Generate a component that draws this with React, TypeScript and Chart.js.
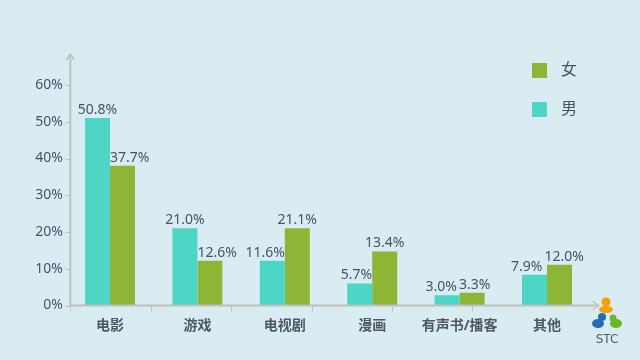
import React, { useEffect, useRef } from "react";
import { Chart, registerables } from "chart.js";

Chart.register(...registerables);

const categories = ["电影", "游戏", "电视剧", "漫画", "有声书/播客", "其他"];
const maleBars = [51.0, 21.0, 12.2, 6.0, 2.8, 8.4];
const femaleBars = [38.0, 12.2, 21.0, 14.7, 3.5, 11.1];
const maleLabels = ["50.8%", "21.0%", "11.6%", "5.7%", "3.0%", "7.9%"];
const femaleLabels = ["37.7%", "12.6%", "21.1%", "13.4%", "3.3%", "12.0%"];
const yTicks = [0, 10, 20, 30, 40, 50, 60];

const BG = "#d9ecf2";
const TEAL = "#4cd6c6";
const GREEN = "#8db536";
const AXIS = "#c0c0c0";
const TEXT = "#44546a";
const FONT = '"Noto Sans", "Noto Sans CJK SC", sans-serif';

const bgPlugin = {
  id: "bg",
  beforeDraw(chart: any) {
    const ctx = chart.ctx;
    ctx.save();
    ctx.fillStyle = BG;
    ctx.fillRect(0, 0, chart.width, chart.height);
    ctx.restore();
  },
};

const decoPlugin = {
  id: "deco",
  afterDatasetsDraw(chart: any) {
    const ctx = chart.ctx;
    const { left, right, bottom } = chart.chartArea;
    const xs = chart.scales.x;
    const ys = chart.scales.y;
    const catW = (right - left) / categories.length;
    const axisX = left + 4;
    const axisEnd = right + 8;
    ctx.save();
    // axes
    ctx.strokeStyle = AXIS;
    ctx.lineWidth = 2;
    ctx.beginPath();
    ctx.moveTo(axisX, bottom + 1);
    ctx.lineTo(axisX, 55);
    ctx.moveTo(axisX, bottom);
    ctx.lineTo(axisEnd, bottom);
    ctx.stroke();
    // arrows
    ctx.lineWidth = 1.5;
    ctx.beginPath();
    ctx.moveTo(axisX - 4, 60);
    ctx.lineTo(axisX, 54);
    ctx.lineTo(axisX + 4, 60);
    ctx.moveTo(axisEnd - 6, bottom - 4);
    ctx.lineTo(axisEnd, bottom);
    ctx.lineTo(axisEnd - 6, bottom + 4);
    ctx.stroke();
    // y ticks
    ctx.lineWidth = 1;
    ctx.beginPath();
    yTicks.forEach((v) => {
      const y = Math.round(ys.getPixelForValue(v)) + 0.5;
      ctx.moveTo(axisX - 5, y);
      ctx.lineTo(axisX, y);
    });
    // x ticks
    for (let i = 0; i < categories.length; i++) {
      const x = Math.round(axisX + i * catW * 0.92) + 0.5;
      ctx.moveTo(x, bottom);
      ctx.lineTo(x, bottom + 6);
    }
    ctx.stroke();

    // data labels with simple collision avoidance
    ctx.font = `14px ${FONT}`;
    ctx.fillStyle = TEXT;
    ctx.textBaseline = "bottom";
    ctx.textAlign = "left";
    const mMeta = chart.getDatasetMeta(0);
    const fMeta = chart.getDatasetMeta(1);
    categories.forEach((_, i) => {
      const mb = mMeta.data[i] as any;
      const fb = fMeta.data[i] as any;
      const mw = ctx.measureText(maleLabels[i]).width;
      const fw = ctx.measureText(femaleLabels[i]).width;
      const center = (mb.x + fb.x) / 2;
      let mx = mb.x - mw / 2;
      let fx = fb.x - fw / 2;
      if (mb.y < fb.y) {
        fx = center;
      } else {
        mx = center - mw;
      }
      const vOverlap = Math.abs(mb.y - fb.y) < 16;
      if (vOverlap) {
        const overlap = mx + mw + 2 - fx;
        if (overlap > 0) {
          mx -= overlap / 2;
          fx += overlap / 2;
        }
      }
      ctx.fillText(maleLabels[i], mx, mb.y - 1);
      ctx.fillText(femaleLabels[i], fx, fb.y - 1);
    });

    // legend
    const items = [
      { label: "女", color: GREEN, y: 63 },
      { label: "男", color: TEAL, y: 102 },
    ];
    ctx.font = `16px ${FONT}`;
    ctx.textAlign = "left";
    ctx.textBaseline = "middle";
    items.forEach((it) => {
      ctx.fillStyle = it.color;
      ctx.fillRect(532, it.y, 15, 15);
      ctx.fillStyle = TEXT;
      ctx.fillText(it.label, 561, it.y + 7.5);
    });

    // STC logo
    const cx = 606;
    ctx.fillStyle = "#f5a000";
    ctx.beginPath();
    ctx.arc(cx, 302, 4.5, 0, Math.PI * 2);
    ctx.fill();
    ctx.beginPath();
    ctx.ellipse(cx, 309.5, 7, 3.5, 0, 0, Math.PI * 2);
    ctx.fill();
    ctx.fillStyle = "#1f6fb5";
    ctx.beginPath();
    ctx.arc(cx - 4, 317, 4, 0, Math.PI * 2);
    ctx.fill();
    ctx.beginPath();
    ctx.ellipse(cx - 8, 323.5, 6, 4.5, 0, 0, Math.PI * 2);
    ctx.fill();
    ctx.fillStyle = "#6ab82a";
    ctx.beginPath();
    ctx.arc(cx + 7, 318, 3.5, 0, Math.PI * 2);
    ctx.fill();
    ctx.beginPath();
    ctx.ellipse(cx + 10, 323.5, 6, 4.5, 0, 0, Math.PI * 2);
    ctx.fill();
    ctx.font = `12px "DejaVu Sans", sans-serif`;
    ctx.fillStyle = "#555b63";
    ctx.textAlign = "center";
    ctx.textBaseline = "middle";
    ctx.fillText("STC", cx + 1, 340);
    ctx.restore();
  },
};

export default function App() {
  const ref = useRef<HTMLCanvasElement>(null);
  useEffect(() => {
    if (!ref.current) return;
    const chart = new Chart(ref.current, {
      type: "bar",
      data: {
        labels: categories,
        datasets: [
          { label: "男", data: maleBars, backgroundColor: TEAL, categoryPercentage: 0.572, barPercentage: 1 },
          { label: "女", data: femaleBars, backgroundColor: GREEN, categoryPercentage: 0.572, barPercentage: 1 },
        ],
      },
      options: {
        animation: false,
        responsive: false,
        layout: { padding: { left: 0, right: 49.3, top: 85, bottom: 0 } },
        plugins: { legend: { display: false }, tooltip: { enabled: false } },
        scales: {
          x: {
            grid: { display: false, drawTicks: false },
            border: { display: false },
            ticks: { color: "#4f5864", font: { family: FONT, size: 14, weight: "bold" }, padding: 12, maxRotation: 0 },
            afterFit(scale: any) {
              scale.height = 54.5;
            },
          },
          y: {
            min: 0,
            max: 60,
            grid: { display: false, drawTicks: false },
            border: { display: false },
            ticks: {
              stepSize: 10,
              color: TEXT,
              font: { family: FONT, size: 14 },
              padding: 3.5,
              callback: (v: any) => v + "%",
            },
            afterFit(scale: any) {
              scale.width = 66.3;
            },
          },
        },
      },
      plugins: [bgPlugin, decoPlugin],
    } as any);
    return () => chart.destroy();
  }, []);
  return (
    <div style={{ position: "fixed", left: 0, top: 0, width: 640, height: 360, background: BG }}>
      <canvas ref={ref} width={640} height={360} />
    </div>
  );
}
